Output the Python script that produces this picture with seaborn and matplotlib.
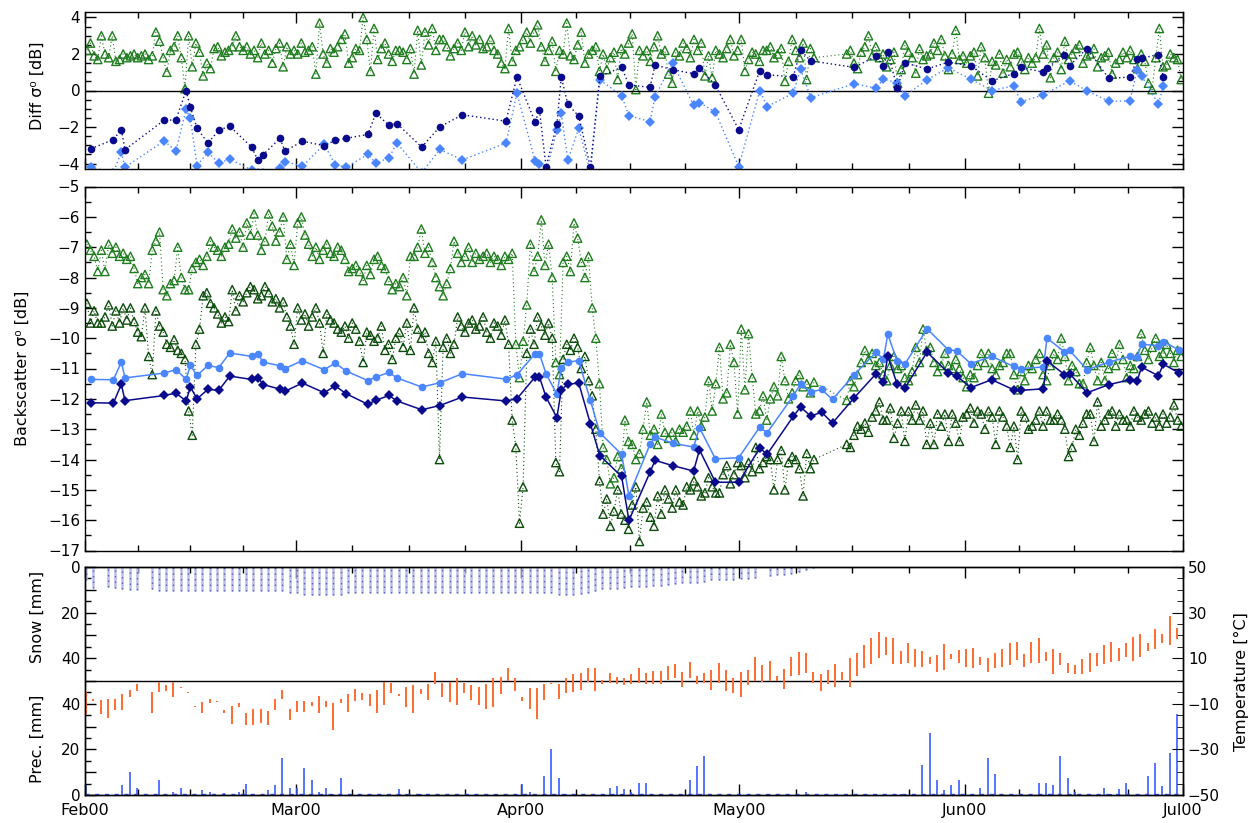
import numpy as np
import pandas as pd
import matplotlib
matplotlib.use('Agg')
import matplotlib.pyplot as plt
import seaborn as sns
from matplotlib.ticker import FixedLocator, MultipleLocator, FuncFormatter

nan = np.nan

# x axis: days since 1 Feb 2000
month_start = [0, 29, 60, 90, 121, 151]
month_label = ['Feb00', 'Mar00', 'Apr00', 'May00', 'Jun00', 'Jul00']

# green triangles: two passes per day (upper band / lower band backscatter, dB)
upper_bs = [
    -6.9, -7.1, -7.3, -7.8, -7.1, -7.8, -6.9, -7.2, -7.0, -7.3,
    -7.2, -7.4, -7.3, -7.7, -8.2, -8.0, -7.9, -8.2, -7.1, -6.8,
    -6.5, -8.4, -8.6, -8.2, -8.1, -7.0, -8.0, -8.4, -8.4, -7.7,
    -7.5, -7.4, -7.6, -7.3, -6.8, -7.0, -7.1, -7.3, -7.0, -6.9,
    -6.4, -6.7, -6.5, -7.0, -6.2, -6.6, -5.9, -6.6, -7.1, -6.8,
    -5.9, -6.3, -6.8, -6.5, -6.0, -7.4, -6.9, -7.6, -6.2, -6.0,
    -6.6, -6.9, -7.3, -7.0, -7.4, -7.1, -6.9, -7.2, -7.3, -7.0,
    -7.1, -7.4, -7.8, -7.7, -7.6, -7.8, -8.1, -7.6, -7.9, -7.4,
    -7.3, -7.6, -7.7, -8.1, -8.4, -8.2, -8.3, -8.0, -8.6, -7.3,
    -7.3, -7.0, -6.4, -7.2, -7.0, -7.5, -8.0, -8.3, -8.6, -8.2,
    -7.7, -6.8, -7.2, -7.5, -7.3, -7.0, -7.5, -7.2, -7.4, -7.3,
    -7.2, -7.5, -7.3, -7.4, -7.6, -7.3, -7.4, -7.2, -10.2, -11.3,
    -10.1, -8.9, -6.9, -7.8, -7.3, -6.1, -7.6, -6.9, -8.0, -10.8,
    -11.2, -7.5, -7.3, -7.8, -6.2, -6.7, -7.5, -8.0, -7.3, -9.0,
    -10.0, -11.5, -13.6, -14.0, -14.8, -14.6, -13.9, -14.3, -12.7, -13.4,
    -13.5, -14.0, -13.8, -13.0, -12.1, -13.2, -13.0, -13.5, -12.5, -13.1,
    -13.3, -13.1, -13.4, -13.0, -13.1, -12.9, -12.4, -13.2, -12.4, -12.9,
    -12.6, -11.4, -12.4, -11.5, -10.3, -12.0, -11.8, -10.2, -10.8, -12.5,
    -9.7, -11.7, -9.85, -11.3, -12.5, -12.4, -11.9, -12.7, -12.0, -11.6,
    -11.9, -10.6, -11.4, -12.0, -11.8, -11.4, -11.2, -11.6, -11.5, -11.8,
    -11.45, nan, nan, nan, nan, nan, nan, nan, nan, -12.05,
    -11.4, -11.6, -11.2, -10.8, -10.4, -10.7, -10.5, -10.9, -10.8, -11.2,
    -11.4, -10.9, -10.6, -11.0, -10.9, -11.3, -11.4, -11.1, -10.3, -10.8,
    -9.7, -10.4, -10.3, -10.8, -11.1, -10.9, -10.5, -10.9, -11.0, -10.7,
    -11.0, -11.3, -11.6, -11.2, -11.3, -10.9, -10.5, -10.8, -10.5, -11.0,
    -11.2, -10.9, -10.8, -10.5, -10.5, -11.2, -11.7, -11.1, -11.4, -10.9,
    -11.0, -10.7, -10.5, -11.2, -11.4, -10.9, -10.5, -10.7, -10.0, -10.6,
    -11.4, -10.9, -11.1, -11.5, -11.5, -10.8, -10.3, -10.9, -11.4, -10.8,
    -11.4, -11.0, -10.5, -10.9, -10.2, -10.7, -11.3, -10.9, -11.0, -10.6,
    -9.85, -10.4, -10.7, -10.3, -10.0, -10.6, -10.5, -10.2, -10.5, -10.8,
    -10.4, -10.6,
]

lower_bs = [
    -8.85, -9.5, -9.1, -9.5, -9.5, -9.3, -8.9, -9.6, -9.1, -9.5,
    -9.0, -9.4, -9.0, -9.45, -9.8, -9.95, -9.0, -10.6, -11.2, -9.1,
    -9.6, -9.8, -10.2, -10.3, -10.05, -10.4, -10.5, -10.7, -12.4, -13.2,
    -10.2, -9.7, -8.6, -8.5, -8.85, -9.0, -9.2, -9.5, -9.3, -9.45,
    -8.4, -9.1, -8.6, -8.8, -8.5, -8.3, -8.4, -8.7, -8.6, -8.3,
    -8.5, -8.8, -8.7, -9.0, -8.8, -9.3, -9.6, -10.2, -9.0, -9.4,
    -9.2, -9.6, -9.3, -9.0, -9.5, -10.5, -9.2, -9.4, -9.5, -9.7,
    -9.8, -9.6, -10.0, -9.5, -9.7, -10.1, -10.8, -9.8, -9.9, -10.1,
    -10.0, -9.6, -10.4, -10.2, -10.7, -10.0, -9.8, -10.3, -9.5, -10.4,
    -9.0, -9.7, -10.0, -9.8, -10.5, -10.8, -10.1, -14.0, -10.3, -10.0,
    -10.5, -10.2, -9.3, -9.6, -9.8, -9.5, -9.4, -9.7, -9.6, -9.3,
    -9.8, -10.0, -9.5, -9.6, -9.9, -9.4, -10.2, -12.7, -13.6, -16.1,
    -14.9, -10.5, -9.7, -10.2, -9.3, -9.6, -9.9, -9.5, -10.0, -14.1,
    -14.4, -10.7, -10.2, -10.4, -10.0, -10.3, -11.0, -10.6, -11.4, -11.9,
    -13.0, -14.7, -15.8, -15.3, -16.2, -15.7, -15.0, -15.8, -16.0, -16.3,
    -15.5, -14.9, -16.7, -15.6, -15.4, -15.9, -16.2, -15.2, -15.8, -15.0,
    -15.3, -15.6, -15.0, -15.4, -15.5, -14.9, -15.0, -14.7, -14.9, -15.2,
    -15.1, -14.6, -14.9, -15.1, -15.1, -14.5, -14.2, -14.8, -14.5, -14.1,
    -14.2, -14.6, -14.1, -14.4, -13.6, -14.3, -14.1, -13.9, -14.0, -15.0,
    -14.0, -13.7, -15.0, -14.1, -13.9, -14.0, -14.3, -15.2, -13.8, -14.3,
    -14.0, nan, nan, nan, nan, nan, nan, nan, nan, -13.5,
    -13.6, -13.2, -12.9, -13.0, -12.8, -13.1, -12.6, -12.4, -12.1, -12.7,
    -12.7, -12.3, -13.3, -12.8, -12.4, -13.4, -12.4, -12.7, -12.2, -12.7,
    -12.4, -13.5, -12.8, -13.5, -12.5, -12.9, -12.5, -13.4, -12.5, -12.8,
    -13.4, -12.6, -12.5, -12.3, -12.8, -12.4, -12.5, -13.0, -12.4, -12.6,
    -13.5, -12.4, -12.6, -12.9, -13.6, -12.9, -14.0, -12.4, -12.6, -13.0,
    -12.9, -12.7, -12.4, -12.9, -12.4, -12.7, -12.7, -12.5, -12.7, -13.0,
    -13.9, -13.6, -13.0, -13.2, -12.8, -12.5, -12.5, -13.4, -12.1, -12.9,
    -12.7, -12.5, -12.4, -12.9, -12.5, -12.7, -12.7, -12.9, -12.4, -12.6,
    -12.7, -12.5, -12.4, -12.8, -12.6, -12.9, -12.5, -12.8, -12.6, -12.2,
    -12.7, -12.9,
]

diff_green = [
    2.2, 2.6, 1.9, 1.7, 3.0, 2.0, 1.8, 3.0, 1.6, 1.7,
    2.0, 1.8, 1.9, 2.0, 1.8, 1.9, 2.0, 1.7, 1.9, 3.2,
    2.7, 1.8, 1.0, 2.2, 2.4, 3.0, 1.8, 0.1, 3.0, 1.3,
    2.6, 2.1, 0.8, 1.5, 1.2, 2.3, 2.4, 1.9, 2.1, 2.2,
    2.4, 3.0, 2.4, 2.2, 2.4, 2.0, 2.2, 1.8, 2.6, 2.0,
    2.2, 1.5, 2.3, 2.6, 1.3, 2.4, 2.0, 2.2, 2.0, 2.6,
    2.1, 2.2, 2.4, 0.9, 3.7, 2.0, 1.5, 2.3, 2.1, 2.4,
    2.8, 3.1, 1.5, 1.8, 2.3, 2.2, 4.0, 2.8, 1.05, 3.4,
    1.7, 2.3, 2.6, 2.0, 1.6, 2.2, 2.2, 2.1, 1.7, 2.3,
    0.9, 3.3, 1.4, 3.2, 2.5, 3.4, 2.2, 2.8, 2.8, 2.4,
    1.9, 2.3, 2.6, 2.2, 3.2, 2.4, 3.0, 2.5, 2.8, 2.3,
    2.4, 2.8, 2.2, 2.0, 1.5, 1.2, 3.4, 1.6, 2.2, 2.4,
    2.8, 3.2, 2.6, 3.2, 3.6, 2.4, 1.6, 2.2, 2.7, 1.05,
    2.2, 2.0, 3.7, 1.9, 1.7, 2.5, 3.2, 1.5, 2.0, 2.2,
    2.4, 1.05, 2.0, 1.15, 1.8, 2.1, 0.6, 2.3, 2.0, 2.6,
    3.1, 0.05, 2.2, 1.9, 2.2, 1.6, 2.4, 3.0, 2.0, 2.2,
    0.9, 0.4, 2.1, 1.9, 2.6, 2.3, 1.8, 2.8, 2.2, 2.6,
    0.8, 1.9, 0.7, 2.2, 2.0, 1.8, 2.3, 2.8, 1.9, 2.2,
    2.8, 1.05, 1.7, 2.1, 2.0, 1.6, 2.2, 2.2, 2.4, 1.8,
    2.0, 2.3, 0.5, 1.6, 2.8, 2.2, 1.8, 2.6, 0.6, 2.3,
    1.8, nan, nan, nan, nan, nan, nan, nan, nan, 2.0,
    2.2, 1.5, 1.2, 2.1, 2.4, 3.0, 1.9, 2.4, 1.8, 2.0,
    1.3, 1.7, 2.1, 0.4, 1.15, 2.5, 2.1, 1.8, 0.95, 2.3,
    1.7, 1.9, 2.0, 2.6, 2.2, 2.8, 1.9, 1.15, 2.0, 3.3,
    1.7, 1.9, 1.5, 1.9, 2.1, 0.8, 2.4, 1.8, -0.15, 1.6,
    1.4, 2.0, 0.95, 1.7, 1.3, 2.0, 2.1, 1.6, 1.15, 1.8,
    1.5, 1.8, 3.4, 2.0, 2.5, 0.7, 1.8, 2.1, 1.15, 2.7,
    1.7, 2.0, 2.3, 2.5, 1.5, 1.9, 2.0, 2.3, 1.3, 1.8,
    1.9, 2.1, 0.9, 1.5, 1.7, 2.1, 1.8, 2.2, 1.7, 1.2,
    2.0, 1.6, 0.4, 0.05, 1.8, 3.4, 1.3, 1.4, 2.0, 1.8,
    1.7, 0.6,
]

# blue reference series (dates shared by all four)
blue_days = [
    0.8, 3.9, 5.0, 5.5, 10.9, 12.5, 13.9, 14.5, 15.4, 16.9,
    18.4, 19.9, 22.9, 23.8, 24.5, 26.8, 27.5, 29.9, 32.9, 34.4,
    35.9, 38.9, 40.0, 41.8, 42.9, 46.3, 48.8, 51.9, 57.9, 59.4,
    61.9, 62.5, 63.4, 64.9, 65.5, 66.4, 67.9, 69.5, 70.8, 73.8,
    74.8, 77.7, 78.4, 80.8, 83.7, 84.5, 86.7, 89.9, 92.8, 93.8,
    97.4, 98.4, 99.8, 101.3, 102.8, 105.8, 108.8, 109.8, 110.4, 111.7,
    112.8, 115.8, 118.7, 119.9, 121.8, 124.7, 127.7, 128.7, 131.8, 132.3,
    134.7, 135.4, 137.8, 140.8, 143.7, 144.7, 145.3, 147.6, 148.3, 150.5,
]
light_bs = [
    -11.36, -11.37, -10.79, -11.31, -11.15, -11.04, -11.35, -10.90, -11.23, -10.90,
    -10.97, -10.49, -10.60, -10.53, -10.79, -10.91, -11.00, -10.74, -11.04, -10.82,
    -11.08, -11.40, -11.28, -11.13, -11.31, -11.61, -11.47, -11.17, -11.35, -11.21,
    -10.51, -10.51, -11.17, -11.85, -10.97, -10.79, -10.74, -12.05, -13.12, -13.83,
    -15.19, -13.50, -13.26, -13.46, -13.59, -12.95, -13.98, -13.94, -12.93, -13.12,
    -11.90, -11.52, -11.78, -11.69, -12.02, -11.20, -10.46, -10.70, -9.87, -10.76,
    -10.84, -9.69, -10.38, -10.42, -10.84, -10.60, -10.93, -11.00, -10.95, -10.00,
    -10.45, -10.40, -11.04, -10.79, -10.60, -10.62, -10.20, -10.25, -10.11, -10.40,
]
dark_bs = [
    -12.13, -12.14, -11.52, -12.06, -11.89, -11.81, -12.07, -11.61, -12.00, -11.69,
    -11.72, -11.25, -11.36, -11.30, -11.53, -11.68, -11.75, -11.48, -11.80, -11.57,
    -11.83, -12.18, -12.05, -11.89, -12.07, -12.36, -12.22, -11.94, -12.07, -12.00,
    -11.28, -11.28, -11.94, -12.62, -11.70, -11.52, -11.48, -12.82, -13.87, -14.56,
    -16.01, -14.42, -14.03, -14.20, -14.38, -13.68, -14.75, -14.75, -13.62, -13.83,
    -12.58, -12.27, -12.57, -12.44, -12.80, -11.96, -11.17, -11.45, -10.60, -11.52,
    -11.63, -10.46, -11.14, -11.25, -11.63, -11.37, -11.70, -11.72, -11.67, -10.75,
    -11.20, -11.17, -11.80, -11.53, -11.37, -11.41, -10.95, -11.24, -10.86, -11.15,
]
dark_diff = [
    -3.19, -2.69, -2.14, -3.24, -1.62, -1.62, 0.00, -0.92, -2.06, -2.88,
    -2.18, -1.95, -3.10, -3.83, -3.52, -2.62, -3.32, -2.78, -3.02, -2.73,
    -2.62, -2.41, -1.25, -1.90, -1.81, -3.10, -1.99, -1.33, -1.68, 0.74,
    -1.73, -1.07, -4.17, -1.84, 0.74, -0.76, -1.40, -4.20, 0.77, 1.27,
    0.31, 0.17, 1.40, 1.14, 0.92, 1.24, 0.28, -2.14, 1.09, 0.87,
    0.74, 2.21, 1.62, nan, nan, 1.27, 1.88, 1.33, 2.10, 0.13,
    1.51, 1.18, 1.55, nan, 1.36, 0.53, 0.92, 1.27, 1.00, 1.22,
    1.97, 1.36, 2.30, 0.66, 0.74, 1.73, 1.77, 1.97, 0.74, nan,
]
light_diff = [
    -4.20, -4.50, -3.37, -4.20, -2.76, -3.32, -1.03, -1.53, -4.11, -3.39,
    -3.98, -3.76, -4.35, -4.50, -4.50, -4.26, -3.89, -4.15, -2.95, -4.06,
    -4.20, -3.50, -3.98, -3.69, -2.88, -4.50, -3.23, -3.80, -2.88, -0.15,
    -3.85, -4.00, -4.50, -2.18, -1.25, -3.83, -2.06, -4.50, 0.59, -0.29,
    -1.38, -1.70, -0.33, 1.51, -0.81, -0.66, -1.18, -4.17, 0.00, -0.88,
    -0.15, 1.18, -0.39, nan, nan, 0.37, 0.13, 0.63, nan, 0.41,
    -0.28, 0.59, 1.24, nan, 0.63, 0.00, 0.26, -0.61, -0.24, nan,
    nan, 0.53, -0.02, -0.59, -0.57, 1.14, 0.81, -0.74, 0.22, nan,
]

# daily station data, 1 Feb - 30 Jun
snow_mm = [
    5.5, 9.3, 0, 8.9, 9.3, 9.8, 10.0, 10.0, 0, 9.8,
    10.5, 10.5, 10.5, 10.5, 10.5, 10.5, 10.5, 10.5, 10.5, 10.5,
    10.5, 10.5, 10.5, 10.5, 10.5, 10.5, 10.5, 10.5, 11.2, 11.5,
    12.3, 12.3, 12.3, 12.3, 12.3, 12.3, 11.5, 11.5, 11.5, 11.5,
    11.5, 11.5, 11.5, 11.5, 11.2, 11.2, 11.2, 11.2, 11.2, 11.2,
    11.2, 11.2, 11.2, 11.2, 11.2, 11.2, 11.2, 11.2, 11.2, 11.2,
    11.5, 11.5, 11.5, 11.5, 11.5, 12.3, 12.3, 12.3, 11.8, 11.2,
    10.4, 9.8, 9.8, 9.8, 9.3, 8.9, 8.6, 8.6, 8.3, 8.3,
    7.8, 7.4, 6.8, 6.8, 6.8, 6.4, 5.9, 5.9, 5.6, 5.6,
    5.3, 5.3, 5.0, 0, 4.1, 3.5, 3.3, 3.0, 2.1, 1.5,
    0.6, 0, 0, 0, 0, 0, 0, 0, 0, 0,
    0, 0, 0, 0, 0, 0, 0, 0, 0, 0,
    0, 0, 0, 0, 0, 0, 0, 0, 0, 0,
    0, 0, 0, 0, 0, 0, 0, 0, 0, 0,
    0, 0, 0, 0, 0, 0, 0, 0, 0, 0,
    0,
]
temp_max = [
    -4.7, -7.7, -8.3, -7.7, -7.7, -5.6, -4.1, -1.2, nan, -4.7,
    -0.3, -1.9, -0.3, -2.7, -4.7, -11.0, -9.3, -7.7, -8.6, -12.6,
    -10.9, -9.8, -14.2, -12.1, -12.1, -13.0, -7.7, -4.1, -12.1, -8.6,
    -8.6, -9.2, -6.5, -8.6, -9.8, -7.7, -5.9, -3.7, -5.3, -5.9,
    -4.1, -0.3, -0.9, -5.6, -2.7, -1.9, -3.7, -1.2, 4.1, -0.7,
    -0.3, 1.2, -0.9, -1.8, -2.7, -1.2, 1.2, 1.8, 5.6, 1.2,
    -7.1, -3.0, -3.0, -1.2, -0.9, -1.5, 1.2, 3.0, 3.6, 5.6,
    5.9, 0.6, 3.6, 1.8, 1.2, 3.0, 5.6, 3.6, 4.4, 4.4,
    6.5, 7.4, 4.1, 8.3, 2.4, 3.6, 5.0, 8.0, 5.0, 1.2,
    4.1, 4.7, 10.7, 6.8, 8.6, 2.1, 5.3, 10.4, 12.7, 12.4,
    4.1, 3.0, 4.7, 7.4, 4.1, 10.1, 12.4, 16.0, 18.9, 21.6,
    19.5, 18.9, 13.3, 16.6, 13.9, 13.3, 10.7, 11.2, 16.3, 11.8,
    13.6, 13.9, 14.5, 10.7, 10.1, 12.1, 13.9, 16.6, 17.2, 11.8,
    17.2, 18.9, 12.7, 13.9, 12.4, 8.0, 6.8, 9.5, 12.4, 12.1,
    16.0, 17.2, 14.5, 16.6, 19.5, 20.4, 16.6, 22.8, 20.7, 28.4,
    23.4,
]
temp_min = [
    -14.5, -8.6, -14.5, -16.3, -12.6, -12.6, -7.1, -4.4, nan, -14.2,
    -4.7, -4.4, -7.1, -3.0, -5.3, -11.5, -14.2, -9.8, -9.2, -14.2,
    -18.8, -11.2, -19.5, -19.5, -18.6, -19.5, -12.9, -7.7, -16.9, -13.6,
    -13.6, -10.9, -14.2, -11.5, -21.3, -9.8, -13.6, -8.9, -8.3, -10.9,
    -14.2, -10.4, -5.2, -6.5, -11.2, -14.2, -5.9, -8.3, -1.5, -7.1,
    -9.2, -10.4, -5.3, -8.3, -10.4, -12.1, -11.5, -5.9, 0.0, -4.4,
    -8.6, -12.1, -16.6, -8.3, -1.5, -7.7, -5.3, -4.7, -4.1, -0.3,
    -4.4, -1.5, -0.9, -1.2, -1.8, -1.5, -0.9, -1.2, -1.5, -1.2,
    0.3, 1.2, -2.7, 1.2, -1.2, -0.9, -4.1, -0.9, -4.4, -5.3,
    -6.8, -1.8, 0.0, -0.3, 0.0, 0.0, -3.3, 2.4, 2.7, 3.6,
    -0.9, -4.4, -1.5, -2.7, 0.6, -2.7, 2.4, 5.9, 7.4, 10.1,
    11.2, 7.4, 7.4, 8.0, 6.2, 6.2, 7.4, 4.1, 5.0, 9.5,
    8.0, 6.2, 5.9, 6.8, 4.1, 5.6, 6.2, 6.8, 9.2, 6.2,
    8.0, 8.0, 8.9, 3.0, 6.8, 3.6, 3.0, 3.0, 4.1, 6.5,
    7.4, 8.3, 8.9, 10.7, 8.9, 10.4, 13.3, 13.9, 16.6, 15.7,
    18.6,
]
prec_mm = [
    4.4, 0, 0, 0, 0, 4.4, 10.0, 3.2, 0, 0,
    6.4, 0, 1.5, 3.2, 0, 0, 2.0, 1.5, 0, 0.9,
    0, 1.5, 5.0, 0.6, 0, 2.2, 4.4, 16.2, 3.2, 3.2,
    12.0, 6.4, 1.5, 3.2, 0.6, 7.6, 0, 0, 0, 0,
    0, 0, 0, 2.6, 0.3, 0, 0.5, 0.5, 0, 0,
    0, 0, 0, 0, 0, 0, 0, 0, 0, 0,
    5.0, 1.5, 0, 8.2, 20.2, 7.6, 0.5, 0, 0, 0,
    0, 0, 3.2, 3.8, 2.6, 1.5, 5.3, 5.3, 0, 0,
    0, 0, 0, 6.4, 12.9, 17.2, 0, 0, 0, 0,
    0, 0, 0, 0, 0, 0, 0, 0, 0, 1.5,
    0, 0, 0, 0, 0, 0, 0, 0, 0, 0,
    0, 0, 0.5, 0, 0, 13.2, 27.2, 6.4, 2.2, 4.4,
    6.4, 0, 0, 3.2, 16.4, 9.4, 0, 0, 0, 0,
    0, 5.3, 5.3, 4.4, 17.2, 7.6, 1.5, 0, 0, 0,
    3.2, 0.6, 2.6, 5.3, 0, 0, 8.2, 14.0, 4.1, 18.4,
    35.4,
]

GREEN_UP = '#1f7d1f'
GREEN_LO = '#0c4d0c'
LIGHT = '#4a86ff'
DARK = '#0a0a8c'
ORANGE = '#ff6a30'
PREC_BLUE = '#3a5cff'

sns.set_style('ticks')
plt.rcParams['font.family'] = ['DejaVu Sans']
plt.rcParams.update({'axes.edgecolor': 'black', 'xtick.color': 'black',
                     'ytick.color': 'black', 'text.color': 'black',
                     'axes.linewidth': 1.0})

fig = plt.figure(figsize=(12.58, 8.23), dpi=100)


def frame(top, bottom):
    return [85 / 1258, 1 - bottom / 823, 1098 / 1258, (bottom - top) / 823]


ax_top = fig.add_axes(frame(12, 169))
ax_mid = fig.add_axes(frame(186.5, 550.5))
ax_bot = fig.add_axes(frame(567, 795))
ax_tmp = ax_bot.twinx()

green_t = np.arange(len(upper_bs)) * 0.5 + 0.25
days = np.arange(len(snow_mm))
xpos = days + 0.15


def green_marks(ax, v, color):
    d = pd.DataFrame({'t': green_t, 'v': v}).dropna()
    sns.lineplot(data=d, x='t', y='v', ax=ax, color=color, lw=0.8,
                 linestyle=(0, (1, 2.5)), sort=False, estimator=None)
    sns.scatterplot(data=d, x='t', y='v', ax=ax, marker='^', s=36,
                    color=color, linewidth=1)
    pts = ax.collections[-1]
    pts.set_facecolor('none')
    pts.set_edgecolor(color)


bd = pd.DataFrame({'t': blue_days, 'light': light_bs, 'dark': dark_bs,
                   'ldiff': light_diff, 'ddiff': dark_diff})

# top panel: differences
green_marks(ax_top, diff_green, GREEN_UP)
ax_top.axhline(0, color='black', lw=1)
sns.lineplot(data=bd[['t', 'ldiff']].dropna(), x='t', y='ldiff', ax=ax_top,
             color=LIGHT, lw=1, linestyle=(0, (1, 2)), marker='D',
             markersize=5, markeredgewidth=0, sort=False, estimator=None)
sns.lineplot(data=bd[['t', 'ddiff']].dropna(), x='t', y='ddiff', ax=ax_top,
             color=DARK, lw=1, linestyle=(0, (1, 2)), marker='o',
             markersize=5.5, markeredgewidth=0, sort=False, estimator=None)
ax_top.set_ylim(-4.3, 4.3)
ax_top.yaxis.set_major_locator(MultipleLocator(2))
ax_top.yaxis.set_minor_locator(MultipleLocator(0.5))

# middle panel: backscatter
green_marks(ax_mid, upper_bs, GREEN_UP)
green_marks(ax_mid, lower_bs, GREEN_LO)
sns.lineplot(data=bd, x='t', y='light', ax=ax_mid, color=LIGHT, lw=1.1,
             marker='o', markersize=5.5, markeredgewidth=0, sort=False, estimator=None)
sns.lineplot(data=bd, x='t', y='dark', ax=ax_mid, color=DARK, lw=1.1,
             marker='D', markersize=5, markeredgewidth=0, sort=False, estimator=None)
ax_mid.set_ylim(-17, -5)
ax_mid.yaxis.set_major_locator(MultipleLocator(1))
ax_mid.yaxis.set_minor_locator(MultipleLocator(0.5))

# bottom panel: snow (from top), precipitation (from bottom), temperature (right)
snow = np.array(snow_mm)
prec = np.array(prec_mm)
tmax = np.array(temp_max)
tmin = np.array(temp_min)
m = snow > 0
ax_bot.vlines(xpos[m], 50 - snow[m], 50, color='#b9bde8', lw=1.8)
ax_bot.vlines(xpos[m], 50 - snow[m], 50, color='#5563c6', lw=1.0,
              linestyles=(0, (1, 3)))
m = prec > 0
ax_bot.vlines(xpos[m], -50, -50 + prec[m], color=PREC_BLUE, lw=1.2)
ax_bot.axhline(-49.5, color=PREC_BLUE, lw=1, ls=(0, (3, 4)))
ax_bot.axhline(0, color='black', lw=1)
ax_bot.set_ylim(-50, 50)
ax_bot.yaxis.set_major_locator(FixedLocator(list(range(-50, 51, 10))))
ax_bot.yaxis.set_minor_locator(MultipleLocator(5))
lab = {50: '0', 30: '20', 10: '40', -10: '40', -30: '20', -50: '0'}
ax_bot.yaxis.set_major_formatter(FuncFormatter(lambda v, p: lab.get(int(round(v)), '')))

m = ~np.isnan(tmax)
ax_tmp.vlines(xpos[m], tmin[m], tmax[m], color=ORANGE, lw=1.4)
ax_tmp.set_ylim(-50, 50)
ax_tmp.yaxis.set_major_locator(FixedLocator([-50, -30, -10, 10, 30, 50]))
ax_tmp.yaxis.set_minor_locator(MultipleLocator(5))
ax_tmp.tick_params(axis='y', which='both', direction='in', right=True, left=False,
                   labelsize=11)
ax_tmp.tick_params(axis='y', which='major', length=8)
ax_tmp.tick_params(axis='y', which='minor', length=4)

# shared x axis styling
quarter = [a + k * (b - a) / 4 for a, b in zip(month_start[:-1], month_start[1:])
           for k in (1, 2, 3)]
for ax in (ax_top, ax_mid, ax_bot):
    ax.set_xlim(0, 151)
    ax.set_xlabel('')
    ax.set_ylabel('')
    ax.xaxis.set_major_locator(FixedLocator(month_start))
    ax.xaxis.set_minor_locator(FixedLocator(quarter))
    ax.tick_params(axis='both', which='both', direction='in', top=True, bottom=True)
    ax.tick_params(axis='both', which='major', length=8, width=1, labelsize=11)
    ax.tick_params(axis='both', which='minor', length=4, width=1)
    if ax is not ax_bot:
        ax.tick_params(axis='y', which='both', left=True, right=True)
        ax.tick_params(axis='x', labelbottom=False)
    for s in ax.spines.values():
        s.set_color('black')
ax_tmp.set_ylabel('')
ax_bot.tick_params(axis='y', which='both', left=True, right=False)
ax_bot.set_xticks(month_start, month_label)
ax_bot.tick_params(axis='x', labelsize=11.5, pad=6)

lkw = dict(rotation=90, ha='center', va='center', fontsize=11.5)
fig.text(37 / 1258, 1 - 86 / 823, 'Diff σ⁰ [dB]', **lkw)
fig.text(22 / 1258, 1 - 368 / 823, 'Backscatter σ⁰ [dB]', **lkw)
fig.text(37 / 1258, 1 - 617 / 823, 'Snow [mm]', **lkw)
fig.text(37 / 1258, 1 - 739 / 823, 'Prec. [mm]', **lkw)
fig.text(1241 / 1258, 1 - 682 / 823, 'Temperature [°C]', **lkw)

fig.savefig('out.png', dpi=100)
plt.close(fig)
